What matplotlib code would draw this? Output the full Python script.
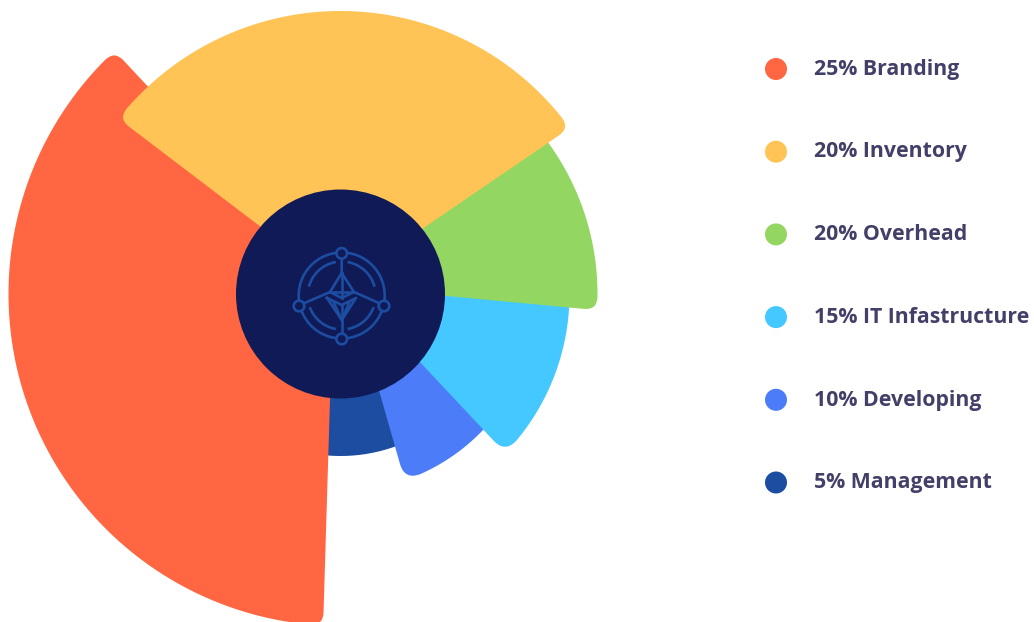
import numpy as np
import matplotlib
matplotlib.use('Agg')
import matplotlib.pyplot as plt
from matplotlib.patches import Arc, Circle, PathPatch
from matplotlib.path import Path

labels = ['25% Branding', '20% Inventory', '20% Overhead', '15% IT Infastructure', '10% Developing', '5% Management']
colors = ['#FF6641', '#FFC455', '#93D762', '#45C8FF', '#4C7CF8', '#1C4DA1']

# sector edges in degrees and outer radius in pixels
start_angles = [132.9, 35.9, -3.6, -44.0, -71.0, -110.0]
end_angles = [267.0, 141.7, 50.0, 10.0, -30.0, -60.0]
radii = [332, 283, 257, 229, 197, 162]

CX, CY = 340.5, 294
INNER_R = 104.5
# where each sector's straight edges meet, relative to the centre
apex_dx = [-7, -2, 0, 10, 11, 0]
apex_dy = [-9, -8, -8, -6, 0, 0]
corner_sizes = [13, 13, 13, 17, 17, 13]
draw_order = [5, 4, 3, 2, 0, 1]


def sector_path(i):
    r = radii[i]
    corner = corner_sizes[i]
    a0, a1 = np.radians(start_angles[i]), np.radians(end_angles[i])
    apex = np.array([CX + apex_dx[i], CY + apex_dy[i]])
    da = corner / r
    arc = np.linspace(a0 + da, a1 - da, 120)
    pts = np.column_stack([CX + r * np.cos(arc), CY - r * np.sin(arc)])

    def corner_pts(a):
        p = np.array([CX + r * np.cos(a), CY - r * np.sin(a)])
        d = apex - p
        return p, p + d / np.linalg.norm(d) * corner

    p0, e0 = corner_pts(a0)
    p1, e1 = corner_pts(a1)
    verts = [apex, e0, p0, pts[0]] + list(pts[1:]) + [p1, e1, apex]
    codes = [Path.MOVETO, Path.LINETO, Path.CURVE3, Path.CURVE3] + [Path.LINETO] * (len(pts) - 1)
    codes += [Path.CURVE3, Path.CURVE3, Path.CLOSEPOLY]
    return Path(verts, codes)


def draw_icon(ax):
    c = '#1C4DA1'
    lw = 1.9
    ix, iy = 341.7, 295.5
    ax.add_patch(Circle((ix, iy), 43, fill=False, ec=c, lw=lw, zorder=11))
    # ring broken into four pieces
    for t1, t2 in [(-80, -15), (195, 260), (20, 80), (100, 160)]:
        ax.add_patch(Arc((ix, iy), 68, 68, theta1=t1, theta2=t2, ec=c, lw=lw, zorder=11))
    segs = [
        [(341.7, 258), (341.7, 273), (330, 292), (341.7, 298), (354, 292), (341.7, 273)],
        [(341.7, 273), (341.7, 298)],
        [(330, 292), (354, 292)],
        [(303.5, 303.5), (330, 292)],
        [(380, 303.5), (354, 292)],
        [(327, 298), (341.7, 305), (356, 298), (341.7, 320), (327, 298)],
        [(341.7, 305), (341.7, 334)],
        [(334, 303), (341.7, 320), (349, 303)],
    ]
    for s in segs:
        xs, ys = zip(*s)
        ax.plot(xs, ys, color=c, lw=lw, solid_joinstyle='round', zorder=11)
    for nx, ny in [(341.7, 253.3), (341.7, 339), (299, 306), (384, 306)]:
        ax.add_patch(Circle((nx, ny), 5.3, fc='#101A57', ec=c, lw=lw, zorder=12))


fig = plt.figure(figsize=(10.34, 6.22), dpi=100)
ax = fig.add_axes([0, 0, 1, 1])
ax.set_xlim(0, 1034)
ax.set_ylim(622, 0)
ax.axis('off')

for z, i in enumerate(draw_order):
    ax.add_patch(PathPatch(sector_path(i), fc=colors[i], ec='none', zorder=z + 1))
ax.add_patch(Circle((CX, CY), INNER_R, fc='#101A57', ec='none', zorder=10))
draw_icon(ax)

# legend
for i, lab in enumerate(labels):
    y = 69 + i * 82.7
    ax.add_patch(Circle((776, y), 11, fc=colors[i], ec='none'))
    ax.text(814, y + 0.3, lab, family='Open Sans', weight='bold', fontsize=15.3,
            color='#423F68', va='center', ha='left')

plt.savefig('out.png', dpi=100)
